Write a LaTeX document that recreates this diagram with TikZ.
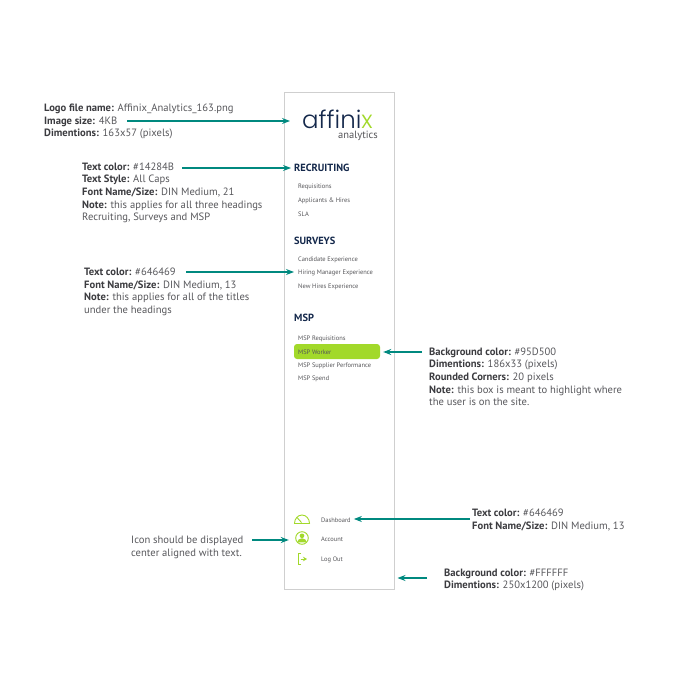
\documentclass[tikz,border=0pt]{standalone}
\usepackage{fontspec}
\setmainfont{PT Sans}
\newfontfamily\logofont{Poppins Light}
\usepackage{xcolor}
\usetikzlibrary{positioning,arrows.meta}
\definecolor{headingblue}{HTML}{14284B}
\definecolor{itemgray}{HTML}{555559}
\definecolor{notegray}{HTML}{58585C}
\definecolor{labelgray}{HTML}{3C3C40}
\definecolor{limegreen}{HTML}{A2D92A}
\definecolor{pointerteal}{HTML}{00897F}
\definecolor{panelgray}{HTML}{CFCFCF}
\newcommand{\lab}[1]{\textcolor{labelgray}{\textbf{#1}}}

\begin{document}
\begin{tikzpicture}[x=1pt, y=-1pt, node distance=13.4pt, >={Stealth[length=8pt,width=6pt]},
	notetext/.style={anchor=north west, inner sep=0pt, align=left, text=notegray, font=\fontsize{10.6}{12.6}\selectfont},
	heading/.style={anchor=west, inner sep=0pt, text=headingblue, font=\fontsize{10.4}{12}\selectfont\bfseries},
	item/.style={anchor=west, inner sep=0pt, text=itemgray, font=\fontsize{6.45}{8}\selectfont},
	iconbox/.style={minimum size=14pt, inner sep=0pt},
	iconline/.style={draw=limegreen, line width=0.9pt},
	pointer/.style={->, draw=pointerteal, line width=1.2pt, shorten >=1pt}]
	\useasboundingbox (0,0) rectangle (680,680);
	\fill[white] (0,0) rectangle (680,680);

	% side panel
	\node[draw=panelgray, fill=white, line width=1pt, minimum width=109.5pt, minimum height=497pt, inner sep=0pt] (panel) at (339.25,340.5) {};

	% logo
	\node[inner sep=0pt, anchor=base west, text depth=0pt, text=headingblue, font=\fontsize{24.5}{25}\selectfont\logofont] (logo) at (302,128) {affini\textcolor{limegreen}{x}};
	\node[inner sep=0pt, anchor=base east, text=itemgray, font=\fontsize{10.5}{11}\selectfont] (analytics) at (378,138) {analytics};

	% menu
	\node[heading] (recruiting) at (294,167.5) {RECRUITING};
	\node[item] (requisitions) at (298,187) {Requisitions};
	\node[item] (applicants) [below=of requisitions.west, anchor=west] {Applicants \& Hires};
	\node[item] (sla) [below=of applicants.west, anchor=west] {SLA};

	\node[heading] (surveys) at (294,240.5) {SURVEYS};
	\node[item] (candidate) at (298,259.8) {Candidate Experience};
	\node[item] (hiring) [below=of candidate.west, anchor=west] {Hiring Manager Experience};
	\node[item] (newhires) [below=of hiring.west, anchor=west] {New Hires Experience};

	\node[heading] (msp) at (294,318) {MSP};
	\node[fill=limegreen, rounded corners=3pt, minimum width=86pt, minimum height=15pt, inner sep=0pt] (highlight) at (337,351.5) {};
	\node[item] (mspreq) at (298,338.7) {MSP Requisitions};
	\node[item] (mspworker) [below=of mspreq.west, anchor=west] {MSP Worker};
	\node[item] (mspsupplier) [below=of mspworker.west, anchor=west] {MSP Supplier Performance};
	\node[item] (mspspend) [below=of mspsupplier.west, anchor=west] {MSP Spend};

	% bottom links
	\node[item] (dashboard) at (321,519.9) {Dashboard};
	\node[item] (account) at (321,539) {Account};
	\node[item] (logout) at (321,559.7) {Log Out};
	\node[iconbox] (dashicon) at (302,519) {};
	\node[iconbox] (accounticon) at (302,538) {};
	\node[iconbox] (logouticon) at (302,559) {};

	\draw[iconline] (294.5,523.5) arc[start angle=180, end angle=360, x radius=7.5pt, y radius=-8.5pt] -- cycle;
	\draw[iconline] (297,517.5) -- (301.5,522.5);
	\draw[iconline] (accounticon) circle[radius=6.3pt];
	\fill[limegreen] (302,535.8) circle[radius=2.3pt];
	\fill[limegreen] (297.3,542.3) arc[start angle=180, end angle=360, x radius=4.7pt, y radius=-4pt] -- cycle;
	\draw[iconline] (301,553.5) -- (298,553.5) -- (298,564.5) -- (301,564.5);
	\draw[iconline, -{Stealth[length=4pt,width=4.5pt]}] (300.5,559) -- (307,559);

	% notes
	\node[notetext] (logonote) at (44,104) {\lab{Logo file name:} Affinix\_Analytics\_163.png\\
		\lab{Image size:} 4KB\\
		\lab{Dimentions:} 163x57 (pixels)};
	\node[notetext] (headingnote) at (82,162.5) {\lab{Text color:} \#14284B\\
		\lab{Text Style:} All Caps\\
		\lab{Font Name/Size:} DIN Medium, 21\\
		\lab{Note:} this applies for all three headings\\
		Recruiting, Surveys and MSP};
	\node[notetext] (titlenote) at (84,268) {\lab{Text color:} \#646469\\
		\lab{Font Name/Size:} DIN Medium, 13\\
		\lab{Note:} this applies for all of the titles\\
		under the headings};
	\node[notetext] (boxnote) at (429,347.5) {\lab{Background color:} \#95D500\\
		\lab{Dimentions:} 186x33 (pixels)\\
		\lab{Rounded Corners:} 20 pixels\\
		\lab{Note:} this box is meant to highlight where\\
		the user is on the site.};
	\node[notetext] (linknote) at (472,509) {\lab{Text color:} \#646469\\
		\lab{Font Name/Size:} DIN Medium, 13};
	\node[notetext] (iconnote) at (131,536) {Icon should be displayed\\
		center aligned with text.};
	\node[notetext] (panelnote) at (444,568.5) {\lab{Background color:} \#FFFFFF\\
		\lab{Dimentions:} 250x1200 (pixels)};

	% free ends of the pointers
	\coordinate (logostart) at (127,121);
	\coordinate (headingstart) at (182,168);
	\coordinate (titlestart) at (186,272);
	\coordinate (boxstart) at (422,352);
	\coordinate (linkstart) at (470,519);
	\coordinate (iconstart) at (252,540);
	\coordinate (panelstart) at (427,578);

	\path (logostart) edge[pointer, shorten >=12pt] (logostart -| logo.west)
	(headingstart) edge[pointer, shorten >=3pt] (headingstart -| recruiting.west)
	(titlestart) edge[pointer, shorten >=4pt] (titlestart -| hiring.west)
	(boxstart) edge[pointer, shorten >=3pt] (boxstart -| highlight.east)
	(linkstart) edge[pointer, shorten >=3pt] (linkstart -| dashboard.east)
	(iconstart) edge[pointer, shorten >=6pt] (iconstart -| accounticon.west)
	(panelstart) edge[pointer, shorten >=3pt] (panelstart -| panel.east);
\end{tikzpicture}
\end{document}
